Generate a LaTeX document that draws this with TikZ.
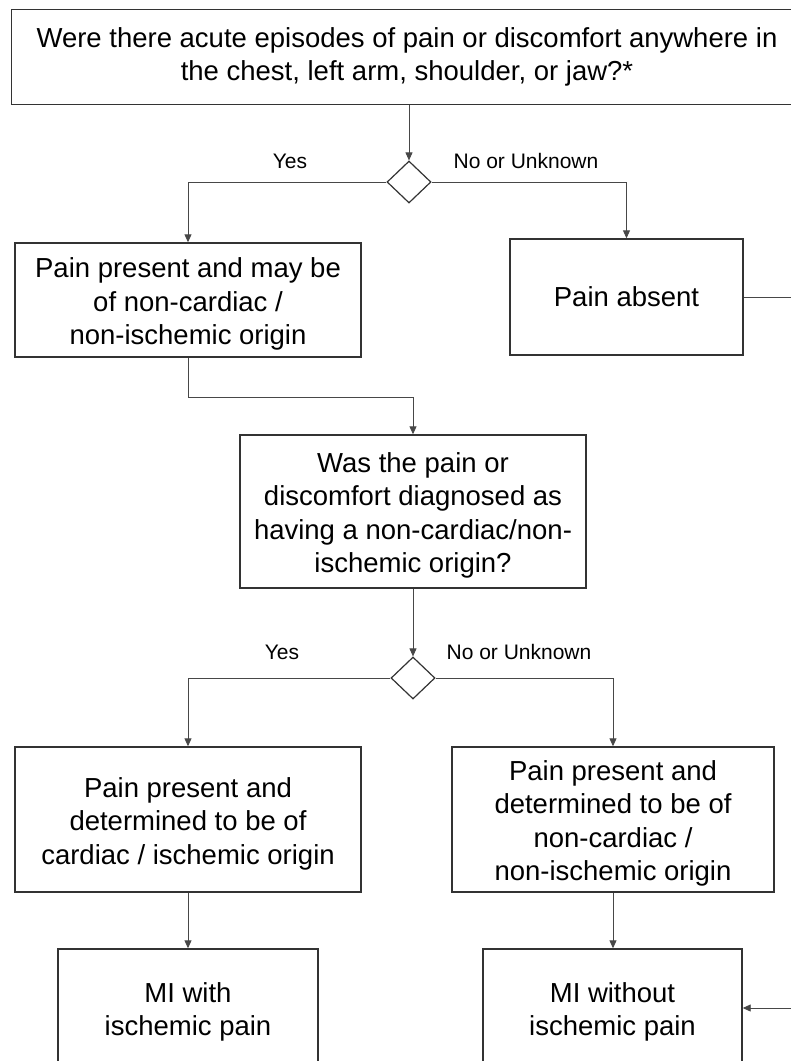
\documentclass[tikz,border=0pt]{standalone}
\usepackage{fontspec}
\setmainfont{Liberation Sans}
\usetikzlibrary{shapes.geometric,arrows.meta}
\newcommand{\lowerstrut}{\rule{0pt}{28pt}}
\begin{document}
\begin{tikzpicture}[x=1pt,y=-1pt,
  box/.style={draw=black!80, line width=1.4pt, align=center, inner sep=0pt, font=\fontsize{27.5}{33.5}\selectfont},
  dec/.style={draw=black!80, line width=1.2pt, shape=diamond, minimum width=44pt, minimum height=42pt, inner sep=0pt},
  conn/.style={draw=black!72, line width=0.9pt},
  arr/.style={conn, -{Triangle[length=8pt,width=7pt]}},
  lbl/.style={font=\fontsize{21}{25}\selectfont, inner sep=0pt}]
\useasboundingbox (0,0) rectangle (791,1061);
\fill[white] (0,0) rectangle (791,1061);

\coordinate (rr) at (830,0);

\node[box, draw=none, minimum width=790pt, minimum height=94pt] (q1) at (407,57)
  {Were there acute episodes of pain or discomfort anywhere in\\the chest, left arm, shoulder, or jaw?*};
\draw[draw=black!80, line width=1.4pt] (q1.north west) rectangle (q1.south east -| rr);
\node[dec] (d1) at (409,182) {};
\node[lbl] (y1) at (290,161) {Yes};
\node[lbl] (n1) at (526,161) {No or Unknown};

\node[box, minimum width=346pt, minimum height=114pt] (A) at (188,300)
  {\lowerstrut Pain present and may be\\of non-cardiac /\\non-ischemic origin};
\node[box, minimum width=233pt, minimum height=116pt] (B) at (626.5,297)
  {Pain absent};

\node[box, minimum width=346pt, minimum height=153pt] (C) at (413,511.5)
  {\lowerstrut Was the pain or\\discomfort diagnosed as\\having a non-cardiac/non-\\ischemic origin?};
\node[dec] (d2) at (413,678) {};
\node[lbl] (y2) at (282,652) {Yes};
\node[lbl] (n2) at (519,652) {No or Unknown};

\node[box, minimum width=346pt, minimum height=145pt] (D) at (188,819.5)
  {\lowerstrut Pain present and\\determined to be of\\cardiac / ischemic origin};
\node[box, minimum width=322pt, minimum height=145pt] (E) at (613,819.5)
  {\lowerstrut Pain present and\\determined to be of\\non-cardiac /\\non-ischemic origin};

\node[box, minimum width=260pt, minimum height=118pt] (M1) at (188,1008)
  {\lowerstrut MI with\\ischemic pain};
\node[box, minimum width=259pt, minimum height=118pt] (M2) at (612.5,1008)
  {\lowerstrut MI without\\ischemic pain};

\coordinate (rv) at (806,0);

\draw[arr] (q1.south -| d1) -- (d1.north);
\draw[arr] (d1.west) -| (A.north);
\draw[arr] (d1.east) -| (B.north);
\draw[arr] (A.south) -- ++(0,40) -| (C.north);
\draw[arr] (B.east) -- (B.east -| rv) |- (M2.east);
\draw[arr] (C.south) -- (d2.north);
\draw[arr] (d2.west) -| (D.north);
\draw[arr] (d2.east) -| (E.north);
\draw[arr] (D.south) -- (M1.north);
\draw[arr] (E.south) -- (E.south |- M2.north);
\end{tikzpicture}
\end{document}
